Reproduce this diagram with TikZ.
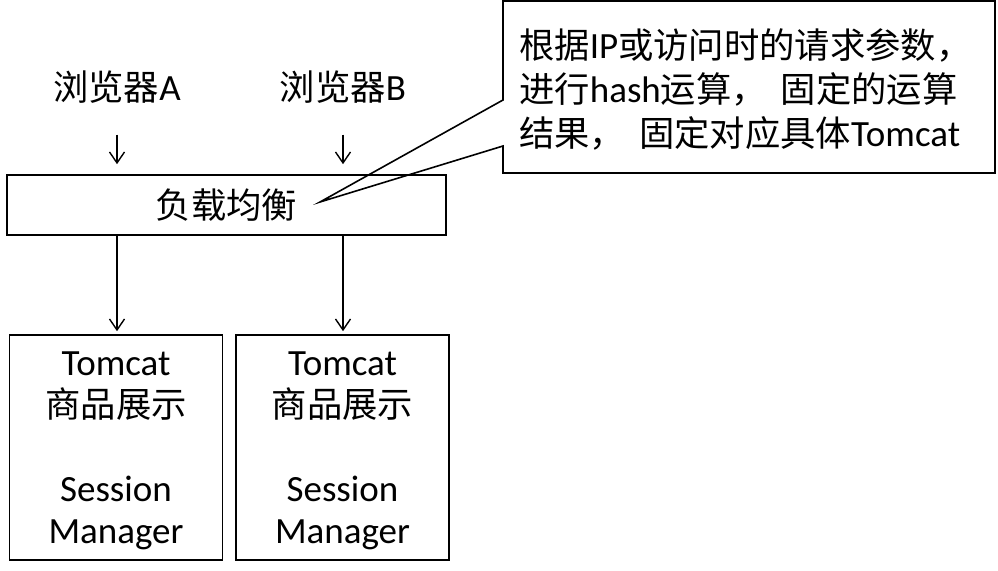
\documentclass[tikz,border=0pt]{standalone}
\usepackage{fontspec}
\setmainfont{Carlito}
\newfontfamily\cjk[Scale=0.955]{Noto Sans CJK SC}
\usetikzlibrary{arrows.meta}
\begin{document}
\begin{tikzpicture}[x=1pt,y=-1pt,
  box/.style={draw, line width=1.6pt, inner sep=0pt},
  lbl/.style={font=\fontsize{37}{42}\selectfont, align=center, inner sep=0pt},
  arr/.style={-{Straight Barb[length=11pt,width=15pt,line width=1.4pt]}, line width=1.4pt}]
\useasboundingbox (0,0) rectangle (998,570);
% browsers
\node[lbl] (bA) at (117,87) {{\cjk 浏览器}A};
\node[lbl] (bB) at (343,87) {{\cjk 浏览器}B};
% load balancer
\node[box, lbl, minimum width=439pt, minimum height=60pt] (lb) at (226.5,205) {{\cjk 负载均衡}};
% tomcats
\node[box, lbl, minimum width=213pt, minimum height=225pt] (t1) at (116,447.5) {};
\node[box, lbl, minimum width=213pt, minimum height=225pt] (t2) at (342.5,447.5) {};
\node[lbl] (t1t) at (116,451) {Tomcat\\{\cjk 商品展示}\\[42pt]Session\\Manager};
\node[lbl] (t2t) at (342.5,451) {Tomcat\\{\cjk 商品展示}\\[42pt]Session\\Manager};
% arrows
\draw[arr, shorten <=31pt, shorten >=10pt] (bA) -- (bA |- lb.north);
\draw[arr, shorten <=31pt, shorten >=10pt] (bB) -- (bB |- lb.north);
\draw[arr, shorten >=3pt] (lb.south -| bA) -- (bA |- t1.north);
\draw[arr, shorten >=3pt] (lb.south -| bB) -- (bB |- t2.north);
% callout
\coordinate (tip) at (320,202);
\draw[line width=1.6pt, line join=miter] (503,1) -- (995,1) -- (995,173) -- (503,173) -- (503,146) -- (tip) -- (503,100) -- cycle;
\node[lbl, font=\fontsize{37}{44}\selectfont, align=left, anchor=west] (ct) at (519,89)
  {{\cjk 根据}IP{\cjk 或访问时的请求参数，}\\{\cjk 进行}hash{\cjk 运算，}\hspace{14pt}{\cjk 固定的运算}\\{\cjk 结果，}\hspace{14pt}{\cjk 固定对应具体}Tomcat};
\end{tikzpicture}
\end{document}
